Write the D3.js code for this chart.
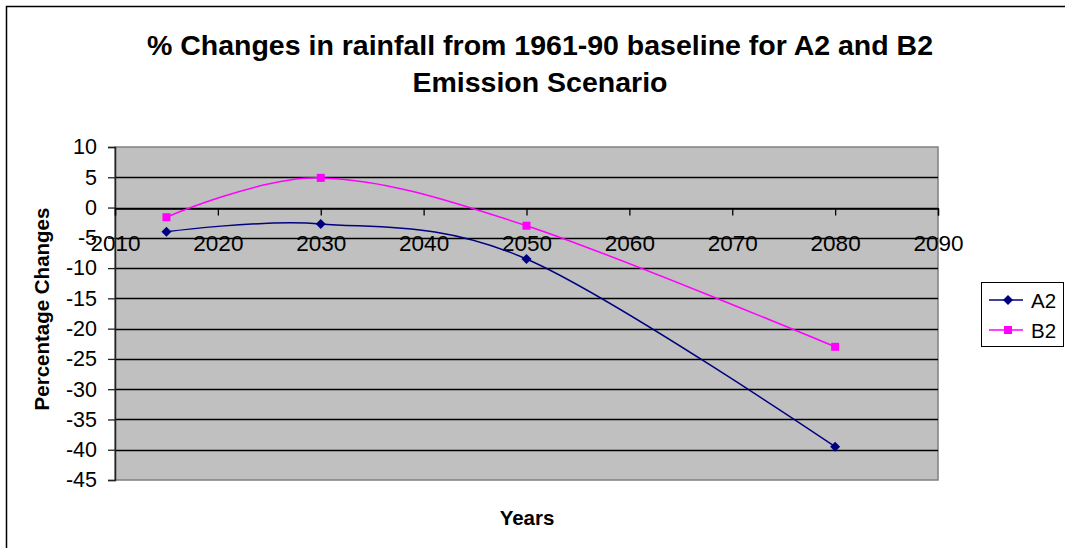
<!DOCTYPE html>
<html>
<head>
<meta charset="utf-8">
<script src="https://cdn.jsdelivr.net/npm/d3@7"></script>
<style>
  html, body { margin: 0; padding: 0; background: #fff; }
  svg { display: block; font-family: Arial, "Liberation Sans", sans-serif; }
</style>
</head>
<body>
<svg id="chart" width="1065" height="548"></svg>
<script>
// Projection years and % change in rainfall vs. 1961-90 baseline
const years = [2015, 2030, 2050, 2080];
const a2Values = [-4.0, -2.7, -8.5, -39.5];
const b2Values = [-1.6, 4.9, -3.0, -23.0];
const seriesNames = ["A2", "B2"];
const seriesColors = ["#000080", "#FF00FF"];
const xTicks = [2010, 2020, 2030, 2040, 2050, 2060, 2070, 2080, 2090];
const yTicks = [10, 5, 0, -5, -10, -15, -20, -25, -30, -35, -40, -45];
const titleLines = ["% Changes in rainfall from 1961-90 baseline for A2 and B2", "Emission Scenario"];

const FONT = "Arial, 'Liberation Sans', sans-serif";
const svg = d3.select("#chart");
const plot = { left: 115, right: 938, top: 147, bottom: 480 };

const x = d3.scaleLinear().domain([2010, 2090]).range([plot.left, plot.right]);
const y = d3.scaleLinear().domain([-45, 10]).range([plot.bottom, plot.top]);

// Outer chart frame (top and left edges visible)
svg.append("rect")
  .attr("x", 6.5).attr("y", 6.5).attr("width", 1200).attr("height", 1200)
  .attr("fill", "none").attr("stroke", "#000").attr("stroke-width", 1.5);

// Title
const title = svg.append("text")
  .attr("text-anchor", "middle")
  .attr("font-size", 28.5).attr("font-weight", "bold").attr("fill", "#000");
titleLines.forEach((t, i) => {
  title.append("tspan").attr("x", 540).attr("y", 55 + i * 37).text(t);
});

// Plot area background
svg.append("rect")
  .attr("x", plot.left).attr("y", plot.top)
  .attr("width", plot.right - plot.left).attr("height", plot.bottom - plot.top)
  .attr("fill", "#C0C0C0").attr("stroke", "#808080").attr("stroke-width", 1.5);

// Horizontal gridlines
svg.append("g")
  .selectAll("line")
  .data(yTicks.filter(v => v !== -45 && v !== 10))
  .join("line")
  .attr("x1", plot.left).attr("x2", plot.right)
  .attr("y1", d => Math.round(y(d)) + 0.5).attr("y2", d => Math.round(y(d)) + 0.5)
  .attr("stroke", "#000").attr("stroke-width", 1.3);

// Y axis
const yAxis = svg.append("g")
  .attr("transform", `translate(${plot.left},0)`)
  .call(d3.axisLeft(y).tickValues(yTicks).tickSize(7).tickPadding(11).tickFormat(d => String(d)));
yAxis.select(".domain").attr("stroke", "#222").attr("stroke-width", 1.5);
yAxis.selectAll(".tick line").attr("stroke", "#222").attr("stroke-width", 1.3);
yAxis.selectAll(".tick text").attr("font-size", 21.5).attr("font-family", FONT).attr("fill", "#000");

// X axis crossing at zero
const xAxis = svg.append("g")
  .attr("transform", `translate(0,${Math.round(y(0)) + 0.5})`)
  .call(d3.axisBottom(x).tickValues(xTicks).tickSize(7).tickPadding(20).tickFormat(d => String(d)));
xAxis.select(".domain").attr("stroke", "#000").attr("stroke-width", 1.3);
xAxis.selectAll(".tick line").attr("stroke", "#000").attr("stroke-width", 1.3);
xAxis.selectAll(".tick text").attr("font-size", 22.5).attr("font-family", FONT).attr("fill", "#000");

// Axis titles
svg.append("text")
  .attr("x", 527).attr("y", 525).attr("text-anchor", "middle")
  .attr("font-size", 20.5).attr("font-weight", "bold").text("Years");
svg.append("text")
  .attr("transform", "translate(49,309) rotate(-90)").attr("text-anchor", "middle")
  .attr("font-size", 20.5).attr("font-weight", "bold").text("Percentage Changes");

// Smoothed series lines
const line = d3.line().x(d => x(d[0])).y(d => y(d[1])).curve(d3.curveCardinal.tension(0));
const series = [a2Values, b2Values].map((vals, i) => ({
  name: seriesNames[i], color: seriesColors[i], points: years.map((yr, j) => [yr, vals[j]])
}));

series.forEach(s => {
  svg.append("path").datum(s.points)
    .attr("d", line).attr("fill", "none")
    .attr("stroke", s.color).attr("stroke-width", 1.5);
});

// Marker shapes: diamond for A2, square for B2
const diamondPath = "M0,-5L5,0L0,5L-5,0Z";
const squarePath = "M-4,-4H4V4H-4Z";

function drawMarker(g, name, color, cx, cy) {
  g.append("path")
    .attr("d", name === "A2" ? diamondPath : squarePath)
    .attr("transform", `translate(${cx},${cy})`)
    .attr("fill", color);
}

series.forEach(s => {
  const g = svg.append("g");
  s.points.forEach(p => drawMarker(g, s.name, s.color, x(p[0]), y(p[1])));
});

// Legend
const legend = svg.append("g");
legend.append("rect")
  .attr("x", 981.5).attr("y", 282.5).attr("width", 82).attr("height", 64)
  .attr("fill", "#fff").attr("stroke", "#000").attr("stroke-width", 1);
series.forEach((s, i) => {
  const ly = 300 + i * 30;
  legend.append("line")
    .attr("x1", 989).attr("x2", 1023).attr("y1", ly).attr("y2", ly)
    .attr("stroke", s.color).attr("stroke-width", 1.5);
  drawMarker(legend, s.name, s.color, 1008, ly);
  legend.append("text")
    .attr("x", 1031).attr("y", ly + 7.5)
    .attr("font-size", 20.5).attr("font-family", FONT).attr("fill", "#000").text(s.name);
});
</script>
</body>
</html>
